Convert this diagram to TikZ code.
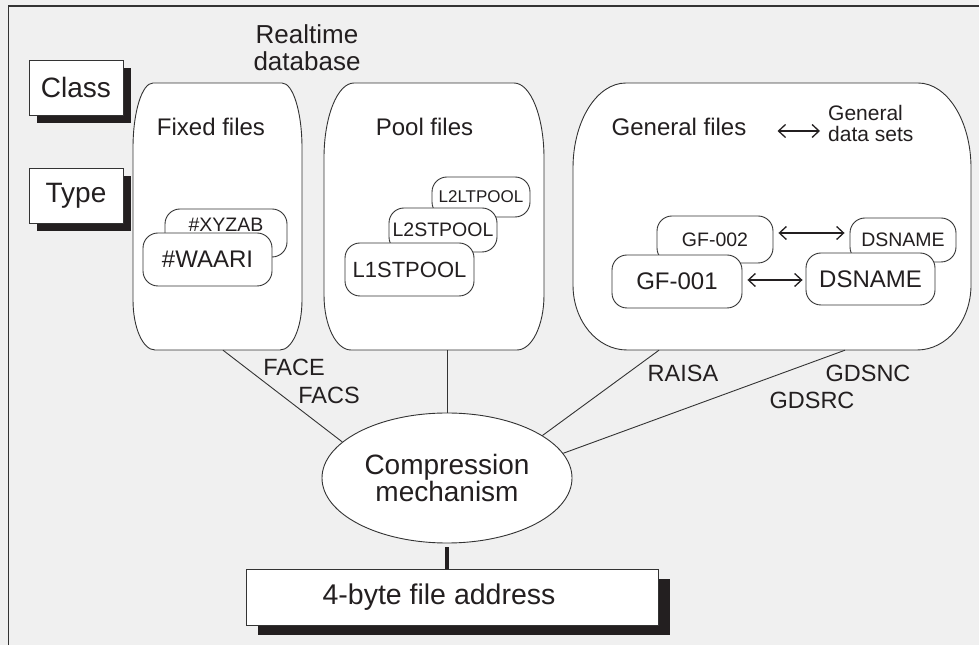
\documentclass[tikz,border=0pt]{standalone}
\usepackage{fontspec}
\setmainfont{Liberation Sans}
\usetikzlibrary{shapes.geometric,arrows.meta,shadows}
\definecolor{bg}{HTML}{F0F0F0}
\definecolor{line}{HTML}{333333}
\definecolor{txt}{HTML}{231F20}
\definecolor{shad}{HTML}{231F20}
\newcommand\fsz[2]{\fontsize{#1}{#2}\selectfont}
\newcommand\rtbox[9]{%
  \draw[bigbox] (#2+#6,#3) -- (#4-#6,#3)
    arc[start angle=90,end angle=0,x radius=#6pt,y radius=#7pt]
    -- (#4,#5+#9)
    arc[start angle=0,end angle=-90,x radius=#8pt,y radius=#9pt]
    -- (#2+#8,#5)
    arc[start angle=270,end angle=180,x radius=#8pt,y radius=#9pt]
    -- (#2,#3-#7)
    arc[start angle=180,end angle=90,x radius=#6pt,y radius=#7pt]
    -- cycle;
  \node[inner sep=0, minimum width={(#4-#2)*1pt}, minimum height={(#3-#5)*1pt}] (#1) at ({(#2+#4)/2},{(#3+#5)/2}) {};%
}
\tikzset{
  lbl/.style={inner sep=0, text=txt},
  bigbox/.style={draw=line, fill=white, line width=0.9pt},
  ibox/.style={draw=line, fill=white, rounded corners=15pt, line width=0.9pt, inner sep=0, text=txt},
  conn/.style={draw=line, line width=0.9pt},
  dar/.style={draw=txt, line width=1.3pt, {Straight Barb[length=7pt,width=13pt]}-{Straight Barb[length=7pt,width=13pt]}},
  shbox/.style={draw=line, fill=white, line width=0.9pt, inner sep=0, text=txt},
  sh8/.style={drop shadow={shadow xshift=8pt, shadow yshift=-8pt, fill=shad, opacity=1}},
  sh12/.style={drop shadow={shadow xshift=12pt, shadow yshift=-10pt, fill=shad, opacity=1}},
}
\begin{document}
\begin{tikzpicture}[x=1pt,y=1pt]
\useasboundingbox (0,0) rectangle (979,645);
\fill[bg] (0,0) rectangle (979,645);
\draw[line, line width=1.4pt] (8.5,0) -- (8.5,639) -- (979,639);

% title
\node[lbl, font=\fsz{26}{27}, align=center] (rt) at (307,597) {Realtime\\database};

% class / type
\node[shbox, sh8, minimum width=94pt, minimum height=55pt, font=\fsz{28}{30}] (class) at (76,557.5) {Class};
\node[shbox, sh8, minimum width=94pt, minimum height=55pt, font=\fsz{28}{30}] (type) at (76,449.5) {Type};

% big boxes
\rtbox{ff}{133}{562}{302}{295}{20}{65}{22}{50}
\rtbox{pf}{324}{562}{544}{295}{30}{75}{27}{55}
\rtbox{gf}{573}{562}{971}{295}{53}{85}{54}{65}

\node[lbl, font=\fsz{24}{26}] (ffl) at (211,518) {Fixed files};
\node[lbl, font=\fsz{24}{26}] (pfl) at (424.5,518) {Pool files};
\node[lbl, font=\fsz{24}{26}] (gfl) at (679,518) {General files};
\node[lbl, font=\fsz{21}{21}, align=left, anchor=west] (gds) at (828,521.5) {General\\data sets};
\draw[dar, shorten <=31pt, shorten >=8pt] ([yshift=-4pt]gfl.east) -- ([yshift=-4pt]gfl.east -| gds.west);

% fixed inner
\node[ibox, minimum width=122pt, minimum height=48pt, label={[lbl, font=\fsz{19.5}{21}, yshift=8pt]center:\#XYZAB}] (xyz) at (226,412) {};
\node[ibox, minimum width=129pt, minimum height=53pt, font=\fsz{24}{26}] (waari) at (207.5,385.5) {\#WAARI};

% pool inner
\node[ibox, minimum width=98pt, minimum height=40pt, font=\fsz{17}{19}] (l2lt) at (481,448) {L2LTPOOL};
\node[ibox, minimum width=108pt, minimum height=44pt, font=\fsz{19.5}{21}] (l2st) at (443,415) {L2STPOOL};
\node[ibox, minimum width=129pt, minimum height=53pt, font=\fsz{22}{24}] (l1st) at (409.5,375.5) {L1STPOOL};

% general inner
\node[ibox, minimum width=116pt, minimum height=47pt, font=\fsz{19.5}{21}] (gf2) at (715,405.5) {GF-002};
\node[ibox, minimum width=106pt, minimum height=44pt, font=\fsz{19.5}{21}] (ds2) at (903,405) {DSNAME};
\node[ibox, minimum width=130pt, minimum height=53pt, font=\fsz{24}{26}] (gf1) at (677,363.5) {GF-001};
\node[ibox, minimum width=129pt, minimum height=52pt, font=\fsz{24}{26}] (dsb) at (870.5,366) {DSNAME};
\draw[dar, shorten <=5pt, shorten >=5pt] ([yshift=6.5pt]gf2.east) -- ([yshift=6.5pt]gf2.east -| ds2.west);
\draw[dar, shorten <=5pt, shorten >=3pt] ([yshift=1.5pt]gf1.east) -- ([yshift=1.5pt]gf1.east -| dsb.west);

% compression
\node[ellipse, draw=line, fill=white, line width=0.9pt, minimum width=250pt, minimum height=130pt, inner sep=0, font=\fsz{28}{27}, align=center, text=txt] (comp) at (447,167) {Compression\\mechanism};

\draw[conn] ([xshift=5.5pt]ff.south) -- (comp.161.2);
\draw[conn] ([xshift=13pt]pf.south) -- (comp.north);
\draw[conn] ([xshift=-113pt]gf.south) -- (comp.24.6);
\draw[conn] ([xshift=73pt]gf.south) -- (comp.12.5);

\node[lbl, font=\fsz{23.5}{25}] (face) at (294,278) {FACE};
\node[lbl, font=\fsz{23.5}{25}] (facs) at (329,250) {FACS};
\node[lbl, font=\fsz{23.5}{25}] (raisa) at (683,272) {RAISA};
\node[lbl, font=\fsz{23.5}{25}] (gdsnc) at (868,272) {GDSNC};
\node[lbl, font=\fsz{23.5}{25}] (gdsrc) at (812,245) {GDSRC};

% address
\node[shbox, sh12, minimum width=412pt, minimum height=56pt, font=\fsz{28.5}{30}] (addr) at (452,48) {\hspace*{-26pt}4-byte file address};
\draw[draw=shad, line width=4pt, shorten <=4pt] (comp.south) -- (comp.south |- addr.north);
\end{tikzpicture}
\end{document}
